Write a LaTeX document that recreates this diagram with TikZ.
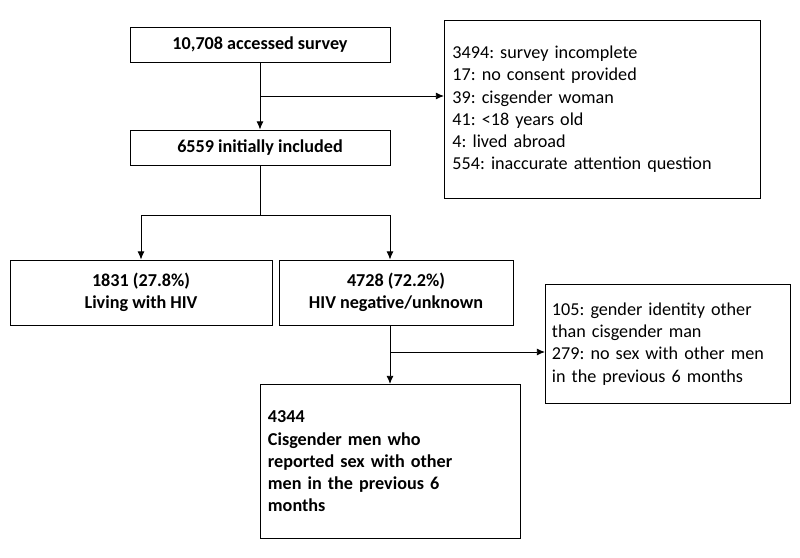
\documentclass[tikz,border=0pt]{standalone}
\usepackage{fontspec}
\setmainfont{Carlito}
\usetikzlibrary{arrows.meta, calc}

\tikzset{
    stepbox/.style={draw, thick, inner sep=4pt},
    flow/.style={thick, -{Latex[length=7pt, width=6pt]}},
}

\begin{document}
\frenchspacing
\begin{tikzpicture}[x=0.03cm, y=-0.03cm, font=\fontsize{15.5}{19}\selectfont]
    \useasboundingbox (0, 0) rectangle (800, 558);

    \node[stepbox, minimum width=260*0.03cm, minimum height=35*0.03cm, font=\fontsize{15.5}{19}\selectfont\bfseries] (access) at (260, 44.5) {10,708 accessed survey};
    \node[stepbox, minimum width=260*0.03cm, minimum height=35*0.03cm, font=\fontsize{15.5}{19}\selectfont\bfseries] (incl) at (260, 147.5) {6559 initially included};
    \node[stepbox, anchor=north west, minimum width=316*0.03cm, minimum height=178*0.03cm, align=left, text width=300*0.03cm] (excl) at (444, 20) {3494: survey incomplete\\17: no consent provided\\39: cisgender woman\\41: <18 years old\\4: lived abroad\\554: inaccurate attention question};

    \node[stepbox, minimum width=262*0.03cm, minimum height=65*0.03cm, align=center, font=\fontsize{15.5}{19}\selectfont\bfseries] (hiv) at (141, 292.5) {1831 (27.8\%)\\Living with HIV};
    \node[stepbox, minimum width=234*0.03cm, minimum height=65*0.03cm, align=center, font=\fontsize{15.5}{19}\selectfont\bfseries] (neg) at (396, 292.5) {4728 (72.2\%)\\HIV negative/unknown};
    \node[stepbox, anchor=north west, minimum width=245*0.03cm, minimum height=119*0.03cm, align=left, text width=232*0.03cm] (excltwo) at (545, 284) {105: gender identity other\\than cisgender man\\279: no sex with other men\\in the previous 6 months};

    \node[stepbox, anchor=north west, minimum width=260*0.03cm, minimum height=154*0.03cm, align=left, text width=245*0.03cm, font=\fontsize{15.5}{19}\selectfont\bfseries] (final) at (260, 384) {4344\\Cisgender men who\\reported sex with other\\men in the previous 6\\months};

    \coordinate (split) at (260, 96);
    \coordinate (fork) at (260, 215);
    \coordinate (forkl) at (141, 215);
    \coordinate (forkr) at (390, 215);
    \coordinate (splittwo) at (390, 352);

    \draw[flow] (access.south) -- (incl.north);
    \draw[flow] (split) -- (split -| excl.west);
    \draw[thick] (incl.south) -- (fork);
    \draw[thick] (forkl) -- (forkr);
    \draw[flow] (forkl) -- (forkl |- hiv.north);
    \draw[flow] (forkr) -- (forkr |- neg.north);
    \draw[flow] (neg.south -| splittwo) -- (splittwo |- final.north);
    \draw[flow] (splittwo) -- (splittwo -| excltwo.west);
\end{tikzpicture}
\end{document}
